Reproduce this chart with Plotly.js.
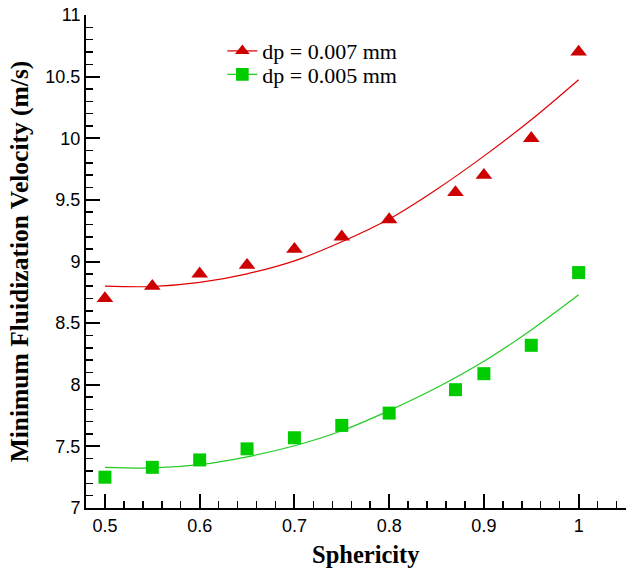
<!DOCTYPE html>
<html>
<head>
<meta charset="utf-8">
<script src="https://cdn.plot.ly/plotly-3.0.1.min.js"></script>
<style>html,body{margin:0;padding:0;background:#fff;}#chart{width:626px;height:570px;}</style>
</head>
<body>
<div id="chart"></div>
<script>
// Measured points
var sphericity = [0.5, 0.55, 0.6, 0.65, 0.7, 0.75, 0.8, 0.87, 0.9, 0.95, 1.0];
var umf007 = [8.70, 8.80, 8.90, 8.97, 9.10, 9.20, 9.34, 9.56, 9.70, 10.00, 10.70];
var umf005 = [7.25, 7.33, 7.39, 7.48, 7.57, 7.67, 7.77, 7.96, 8.09, 8.32, 8.91];

// Fitted curves
var fitX = [0.5, 0.55, 0.6, 0.65, 0.7, 0.75, 0.8, 0.85, 0.9, 0.95, 1.0];
var fit007 = [8.80, 8.797, 8.83, 8.90, 9.005, 9.16, 9.345, 9.585, 9.855, 10.15, 10.475];
var fit005 = [7.33, 7.325, 7.352, 7.415, 7.505, 7.627, 7.79, 7.975, 8.19, 8.445, 8.73];

var seriesNames = ['dp = 0.007 mm', 'dp = 0.005 mm'];
var xTitle = 'Sphericity';
var yTitle = 'Minimum Fluidization Velocity (m/s)';

var RED = '#cc0000', RED_LINE = '#e00000';
var GREEN = '#00cc00', GREEN_LINE = '#22cc22';
var CLEAR = 'rgba(0,0,0,0)';

// Hidden markers on the fit lines, only so the legend shows line + symbol
function legendSizes(n, s) { var a = []; for (var i = 0; i < n; i++) a.push(i === 0 ? 0 : s); return a; }
function legendColors(n, c) { var a = []; for (var i = 0; i < n; i++) a.push(i === 0 ? c : CLEAR); return a; }

var traces = [
  {x: fitX, y: fit007, mode: 'lines+markers', name: seriesNames[0], legend: 'legend',
   line: {color: RED_LINE, width: 1.2, shape: 'spline'},
   marker: {symbol: 'triangle-up', opacity: 1, color: legendColors(fitX.length, RED), size: legendSizes(fitX.length, 14), line: {width: 0, color: RED}}},
  {x: fitX, y: fit005, mode: 'lines+markers', name: seriesNames[1], legend: 'legend2',
   line: {color: GREEN_LINE, width: 1.2, shape: 'spline'},
   marker: {symbol: 'square', opacity: 1, color: legendColors(fitX.length, GREEN), size: legendSizes(fitX.length, 14), line: {width: 0, color: GREEN}}},
  {x: sphericity, y: umf007, mode: 'markers', showlegend: false,
   marker: {symbol: 'triangle-up', color: RED, size: 14.5, line: {width: 0}}},
  {x: sphericity, y: umf005, mode: 'markers', showlegend: false,
   marker: {symbol: 'square', color: GREEN, size: 13, line: {width: 0}}}
];

var tickFont = {family: 'Liberation Sans, Arial, sans-serif', size: 18, color: '#000'};
var serif = 'Liberation Serif, Times New Roman, serif';
var legendFont = {family: serif, size: 22, color: '#000'};

function legendAt(y) {
  return {x: 0.2525, y: y, xanchor: 'left', yanchor: 'middle',
          bgcolor: CLEAR, borderwidth: 0, font: legendFont};
}

var layout = {
  width: 626, height: 570,
  margin: {l: 86, r: 0, t: 15, b: 62},
  paper_bgcolor: '#fff', plot_bgcolor: '#fff',
  showlegend: true,
  legend: legendAt(0.927),
  legend2: legendAt(0.879),
  xaxis: {
    range: [0.48, 1.05], dtick: 0.1, tick0: 0,
    showgrid: false, zeroline: false,
    showline: true, linecolor: '#000', linewidth: 2,
    ticks: 'inside', ticklen: 14, tickwidth: 2, tickcolor: '#000',
    minor: {dtick: 0.02, ticks: 'inside', ticklen: 7, tickwidth: 1.5, tickcolor: '#000', showgrid: false},
    tickfont: tickFont
  },
  yaxis: {
    range: [7, 11], dtick: 0.5, tick0: 0,
    showgrid: false, zeroline: false,
    showline: true, linecolor: '#000', linewidth: 2,
    ticks: 'inside', ticklen: 14, tickwidth: 2, tickcolor: '#000',
    minor: {dtick: 0.1, ticks: 'inside', ticklen: 7, tickwidth: 1.5, tickcolor: '#000', showgrid: false},
    tickfont: tickFont,
    title: {text: yTitle, font: {family: serif, size: 25.5, color: '#000', weight: 'bold'}, standoff: 9}
  },
  annotations: [
    {text: xTitle, xref: 'paper', yref: 'paper', x: 0.5176, y: -0.0953,
     xanchor: 'center', yanchor: 'middle', showarrow: false,
     font: {family: serif, size: 24.5, color: '#000', weight: 'bold'}}
  ]
};

Plotly.newPlot('chart', traces, layout, {displayModeBar: false, staticPlot: true});
</script>
</body>
</html>
